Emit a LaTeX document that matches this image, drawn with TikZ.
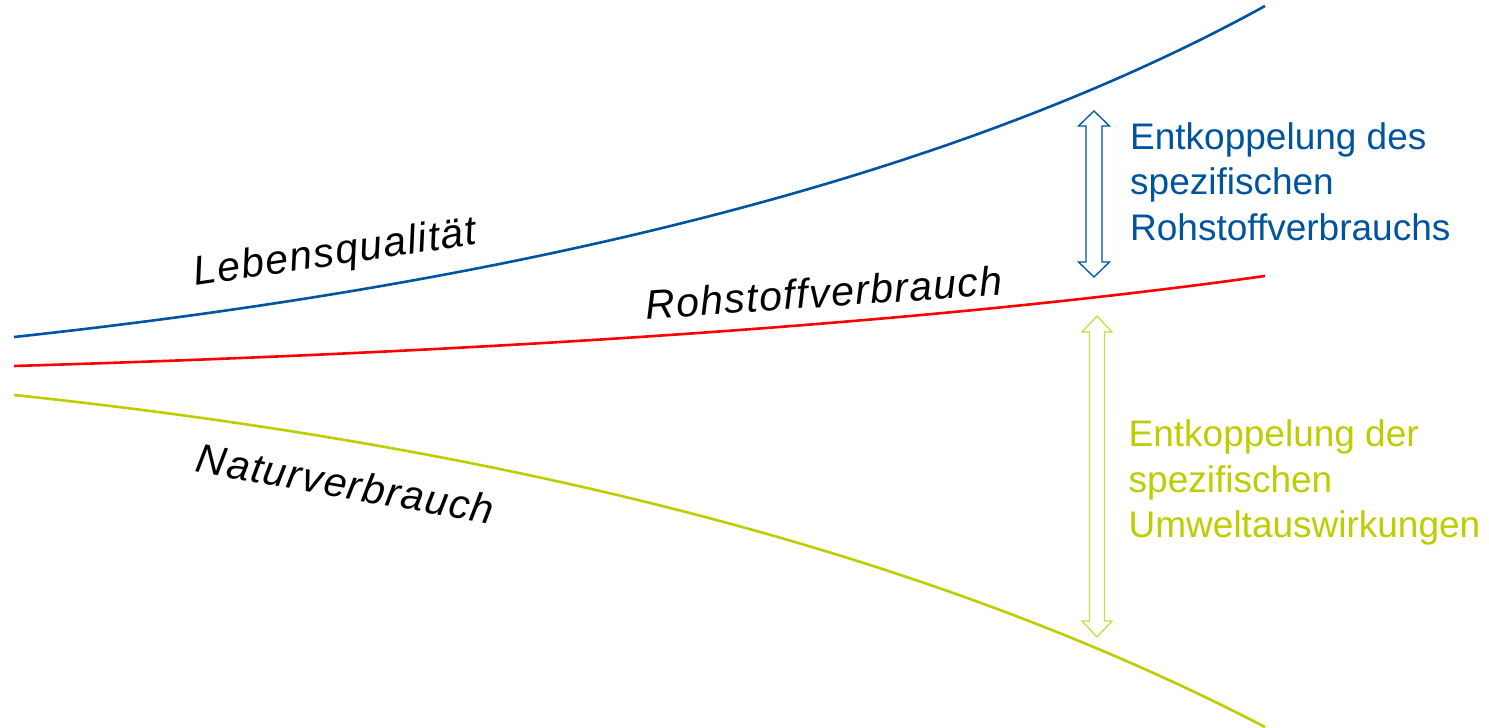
\documentclass[tikz,border=0pt]{standalone}
\usepackage{fontspec}
\setmainfont{Liberation Sans}
\definecolor{rwthblue}{HTML}{00549F}
\definecolor{rwthgreen}{HTML}{BDCD00}
\definecolor{curvered}{HTML}{FF0000}
\begin{document}
\begin{tikzpicture}[x=1pt,y=-1pt,
  curve/.style={line width=2.6pt},
  lbl/.style={font=\fontsize{41}{48}\selectfont\itshape\addfontfeatures{LetterSpace=3.5}, inner sep=0pt, anchor=base},
  side/.style={font=\fontsize{37}{45}\selectfont, inner sep=0pt, anchor=base west},
  dbl/.style={line width=1.3pt, fill=white, line join=miter}]
\useasboundingbox (0,0) rectangle (1489,728);
% curves
\coordinate (b0) at (14,337);
\coordinate (b1) at (1265,6);
\coordinate (r0) at (14,366);
\coordinate (r1) at (1265,276);
\coordinate (g0) at (14,395);
\coordinate (g1) at (1265,727);
\draw[curve, rwthblue] (b0) .. controls (552.7,278.8) and (969.7,168.5) .. (b1);
\draw[curve, curvered] (r0) .. controls (530,350.5) and (947,320.5) .. (r1);
\draw[curve, rwthgreen] (g0) .. controls (526,449) and (943,559.7) .. (g1);
% labels
\node[lbl, rotate=8.4] (leb) at (337,265) {Lebensqualität};
\node[lbl, rotate=4] (roh) at (825,307) {Rohstoffverbrauch};
\node[lbl, rotate=-10] (nat) at (343,498) {Naturverbrauch};
% double arrows
\coordinate (ba) at (1094,111);
\draw[dbl, draw=rwthblue] (ba) -- ++(15.5,15) -- ++(-7.5,0) -- ++(0,136) -- ++(7.5,0)
  -- ++(-15.5,15) -- ++(-15.5,-15) -- ++(7.5,0) -- ++(0,-136) -- ++(-7.5,0) -- cycle;
\coordinate (ga) at (1097,316);
\draw[dbl, draw=rwthgreen!75] (ga) -- ++(15,16) -- ++(-7.5,0) -- ++(0,289) -- ++(7.5,0)
  -- ++(-15,16) -- ++(-15,-16) -- ++(7.5,0) -- ++(0,-289) -- ++(-7.5,0) -- cycle;
% side texts
\node[side, text=rwthblue] (bt1) at (1130,149) {Entkoppelung des};
\node[side, text=rwthblue] (bt2) at (1130,194.5) {spezifischen};
\node[side, text=rwthblue] (bt3) at (1130,240) {Rohstoffverbrauchs};
\node[side, text=rwthgreen] (gt1) at (1128.5,446.7) {Entkoppelung der};
\node[side, text=rwthgreen] (gt2) at (1128.5,492.3) {spezifischen};
\node[side, text=rwthgreen] (gt3) at (1128.5,537.3) {Umweltauswirkungen};
\end{tikzpicture}
\end{document}
